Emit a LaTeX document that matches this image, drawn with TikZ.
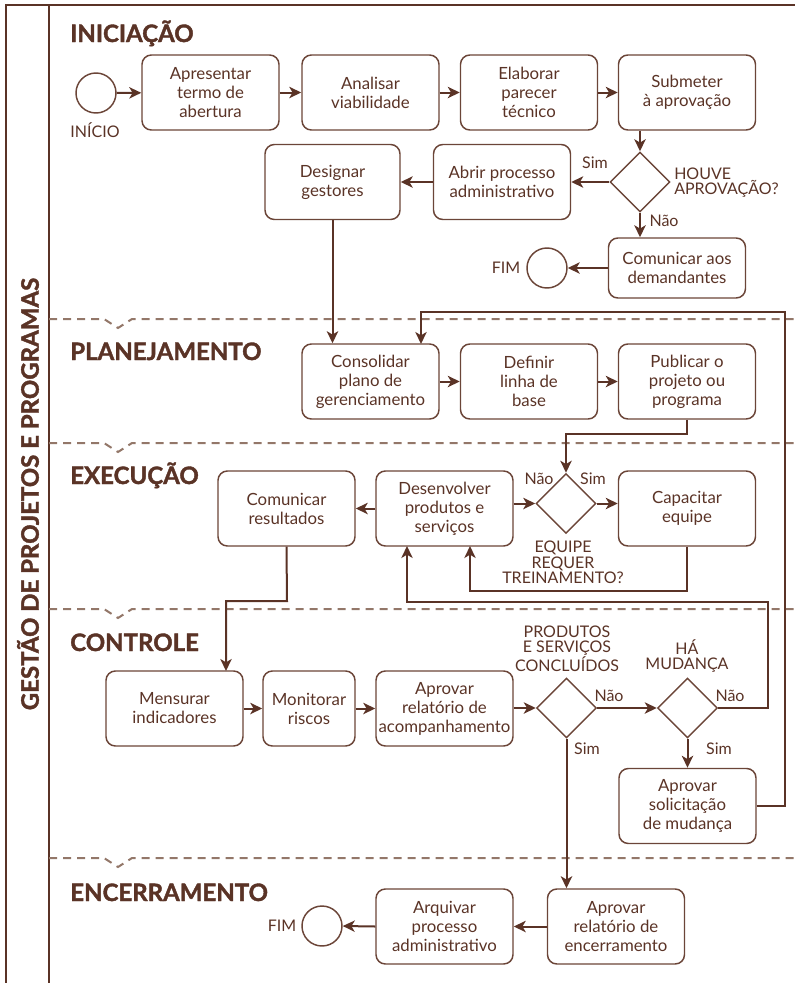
\documentclass[tikz,border=0pt]{standalone}
\usepackage{fontspec}
\setmainfont{Lato}
\newfontfamily\ttlfont{Lato}[BoldFeatures={FakeBold=1.6}]
\usetikzlibrary{arrows.meta,shapes.geometric}
\definecolor{brn}{HTML}{5A3326}
\definecolor{brnbox}{HTML}{6B4538}
\definecolor{dsh}{HTML}{937769}
\begin{document}
\begin{tikzpicture}[x=0.75pt,y=-0.75pt,
  task/.style={draw=brnbox, line width=1.1pt, rounded corners=7pt, align=center, text=brn,
    minimum width=102.75pt, minimum height=56.25pt, inner sep=1pt, font=\fontsize{12.6}{14.3}\selectfont},
  gate/.style={diamond, draw=brnbox, line width=1.1pt, minimum width=45pt, minimum height=45pt, inner sep=0pt},
  ev/.style={circle, draw=brnbox, line width=1.1pt, minimum size=30pt, inner sep=0pt},
  lbl/.style={text=brn, inner sep=0pt, font=\fontsize{12}{11.6}\selectfont},
  phase/.style={text=brn, anchor=base west, inner sep=0pt, font=\fontsize{18}{18}\selectfont\ttlfont\bfseries},
  flow/.style={draw=brn, line width=1.5pt, -{Stealth[length=9pt,width=8.5pt,inset=2.5pt]}},
  conn/.style={draw=brn, line width=1.5pt},
  sep/.style={draw=dsh, line width=1.5pt, dash pattern=on 6pt off 4.5pt}
]
\useasboundingbox (0,0) rectangle (795,983);

% frame
\draw[brn, line width=1.3pt] (6,983) -- (6,5) -- (795,5);
\draw[brn, line width=1.3pt] (49,5) -- (49,983);
\node[rotate=90, text=brn, inner sep=0pt, font=\fontsize{18}{18}\selectfont\ttlfont\bfseries] (mainttl) at (28,494) {GESTÃO DE PROJETOS E PROGRAMAS};

% separators
\foreach \yy in {319,443,609,858} {
  \draw[sep] (49,\yy) -- (104,\yy) -- (118,\yy+9) -- (132,\yy) -- (795,\yy);
}

% phase titles
\node[phase] (p1) at (70,42) {INICIAÇÃO};
\node[phase] (p2) at (70,360) {PLANEJAMENTO};
\node[phase] (p3) at (70,484) {EXECUÇÃO};
\node[phase] (p4) at (70,651) {CONTROLE};
\node[phase] (p5) at (70,901) {ENCERRAMENTO};

% INICIACAO
\node[ev] (start) at (96,93) {};
\node[lbl] (startl) at (95,130) {INÍCIO};
\node[task] (t1) at (210.5,92.5) {Apresentar\\termo de\\abertura};
\node[task] (t2) at (370.5,92.5) {Analisar\\viabilidade};
\node[task] (t3) at (529,92.5) {Elaborar\\parecer\\técnico};
\node[task] (t4) at (687,92.5) {Submeter\\à aprovação};
\node[gate] (g1) at (640,182) {};
\node[lbl, anchor=west, align=left] (g1l) at (674,182.5) {HOUVE\\APROVAÇÃO?};
\node[task] (abrir) at (502,182) {Abrir processo\\administrativo};
\node[task, minimum width=101.25pt] (desig) at (332.5,182) {Designar\\gestores};
\node[task, minimum height=45pt] (comd) at (677,268) {Comunicar aos\\demandantes};
\node[ev] (fim1) at (547,268) {};
\node[lbl] (fim1l) at (506,268) {FIM};

\draw[flow] (start) -- (t1);
\draw[flow] (t1) -- (t2);
\draw[flow] (t2) -- (t3);
\draw[flow] (t3) -- (t4);
\draw[flow] (g1.north |- t4.south) -- (g1.north);
\draw[flow] (g1.west) -- (abrir.east);
\node[lbl] (sim1) at (595,163) {Sim};
\draw[flow] (abrir.west) -- (desig.east);
\draw[flow] (g1.south) -- (g1.south |- comd.north);
\node[lbl] (nao1) at (664,221) {Não};
\draw[flow] (comd.west) -- (fim1.east);

% PLANEJAMENTO
\node[task] (cons) at (370.5,381.5) {Consolidar\\plano de\\gerenciamento};
\node[task] (defl) at (529,381.5) {Definir\\linha de\\base};
\node[task] (pub) at (687,381.5) {Publicar o\\projeto ou\\programa};
\draw[flow] (desig.south) -- (desig.south |- cons.north);
\draw[flow] (cons) -- (defl);
\draw[flow] (defl) -- (pub);

% EXECUCAO
\node[task] (comr) at (286.5,508.5) {Comunicar\\resultados};
\node[task] (desv) at (444.5,508.5) {Desenvolver\\produtos e\\serviços};
\node[gate] (g2) at (566,503.5) {};
\node[task] (cap) at (687,508.5) {Capacitar\\equipe};
\node[lbl] (nao2) at (539,479) {Não};
\node[lbl] (sim2) at (593,479) {Sim};
\node[lbl, align=center] (g2l) at (563,562.5) {EQUIPE\\REQUER\\TREINAMENTO?};
\draw[flow] (pub.south) -- (687,434) -- (566,434) -- (g2.north);
\draw[flow] (desv.east |- g2.west) -- (g2.west);
\draw[flow] (g2.east) -- (cap.west |- g2.east);
\draw[flow] (cap.south) -- (687,591) -- (470,591) -- (470,546);
\draw[flow] (desv.west) -- (comr.east);

% CONTROLE
\node[task] (mens) at (174.5,708.5) {Mensurar\\indicadores};
\node[task, minimum width=69pt] (mon) at (309,708.5) {Monitorar\\riscos};
\node[task] (aprv) at (444.5,708.5) {Aprovar\\relatório de\\acompanhamento};
\node[gate] (g3) at (566.5,708) {};
\node[gate] (g4) at (687.5,708) {};
\node[lbl, align=center] (g3l) at (567,648.5) {PRODUTOS\\E SERVIÇOS\\CONCLUÍDOS};
\node[lbl, align=center] (g4l) at (687,656) {HÁ\\MUDANÇA};
\node[lbl] (nao3) at (609,696) {Não};
\node[lbl] (nao4) at (730,696) {Não};
\node[lbl] (sim3) at (587,749) {Sim};
\node[lbl] (sim4) at (719,749) {Sim};
\node[task] (sol) at (687.5,806) {Aprovar\\solicitação\\de mudança};
\draw[flow] (comr.south) -- (287,601) -- (226,601) -- (226,671);
\draw[flow] (mens) -- (mon);
\draw[flow] (mon) -- (aprv);
\draw[flow] (aprv.east |- g3.west) -- (g3.west);
\draw[flow] (g3.east) -- (g4.west);
\draw[flow] (g4.south) -- (sol.north);
\draw[flow] (g4.east) -- (768,708) -- (768,602) -- (407,602) -- (407,546);
\draw[flow] (sol.east) -- (785,806) -- (785,312) -- (421,312) -- (421,344);

% ENCERRAMENTO
\node[task] (enc) at (616,926.5) {Aprovar\\relatório de\\encerramento};
\node[task] (arq) at (444.5,926.5) {Arquivar\\processo\\administrativo};
\node[ev] (fim2) at (322,926) {};
\node[lbl] (fim2l) at (282,926) {FIM};
\draw[flow] (g3.south) -- (g3.south |- enc.north);
\draw[flow] (enc.west) -- (arq.east);
\draw[flow] (arq.west) -- (fim2.east);
\end{tikzpicture}
\end{document}
